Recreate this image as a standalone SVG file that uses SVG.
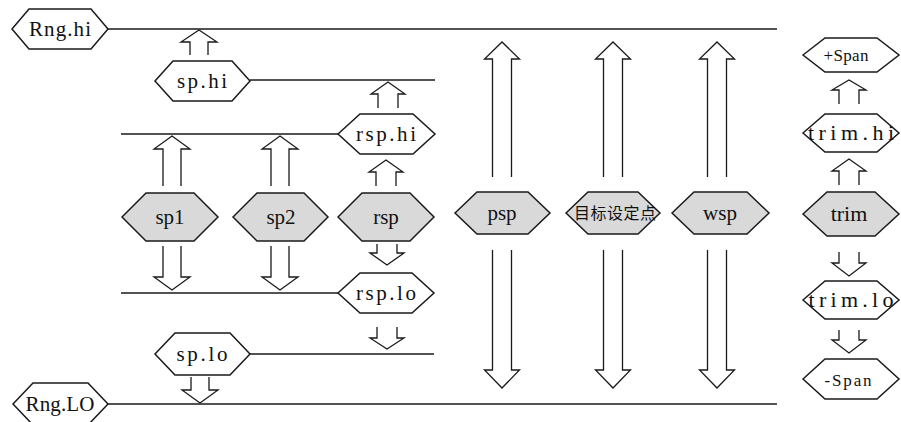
<svg xmlns="http://www.w3.org/2000/svg" width="901" height="422" viewBox="0 0 901 422">
<style>
.hex{fill:#ffffff;stroke:#1a1a1a;stroke-width:1.5}
.hex.g{fill:#d9d9d9}
.ln{stroke:#1a1a1a;stroke-width:1.6;fill:none}
.arr{stroke:#1a1a1a;stroke-width:1.3;fill:none;stroke-linejoin:miter}
text{font-family:"Liberation Serif","DejaVu Serif",serif;font-size:21px;fill:#111;text-anchor:middle}
text.cjk{font-family:"Noto Sans CJK SC",sans-serif;font-size:16px}
text.sm{font-size:17px}
text.lg{font-size:22px}
</style>
<rect width="901" height="422" fill="#ffffff"/>
<g id="connectors">
<line class="ln" x1="108" y1="29" x2="777" y2="29"/>
<line class="ln" x1="250" y1="80" x2="435" y2="80"/>
<line class="ln" x1="121" y1="134" x2="338" y2="134"/>
<line class="ln" x1="121" y1="293" x2="338" y2="293"/>
<line class="ln" x1="250" y1="354" x2="434" y2="354"/>
<line class="ln" x1="108" y1="404" x2="777" y2="404"/>
<polyline class="arr" points="190,55 190,42 181,42 199,30 217,42 208,42 208,55"/>
<polyline class="arr" points="378,108 378,94 371,94 388,82 405,94 398,94 398,108"/>
<polyline class="arr" points="163,186 163,149 154,149 172,136 190,149 181,149 181,186"/>
<polyline class="arr" points="271,186 271,149 262,149 280,136 298,149 289,149 289,186"/>
<polyline class="arr" points="376,186 376,172 369,172 386,160 403,172 396,172 396,186"/>
<polyline class="arr" points="492.5,177 492.5,59 484.5,59 502,42 519.5,59 511.5,59 511.5,177"/>
<polyline class="arr" points="603.5,177 603.5,59 595.5,59 613,42 630.5,59 622.5,59 622.5,177"/>
<polyline class="arr" points="707.5,177 707.5,59 699.5,59 717,42 734.5,59 726.5,59 726.5,177"/>
<polyline class="arr" points="839,104 839,90 832,90 849,80 866,90 859,90 859,104"/>
<polyline class="arr" points="839,185 839,171 832,171 849,159 866,171 859,171 859,185"/>
<polyline class="arr" points="163,246 163,277 154,277 172,290 190,277 181,277 181,246"/>
<polyline class="arr" points="271,246 271,277 262,277 280,290 298,277 289,277 289,246"/>
<polyline class="arr" points="377,244 377,253 370,253 387,265 404,253 397,253 397,244"/>
<polyline class="arr" points="377,327 377,338 370,338 387,349 404,338 397,338 397,327"/>
<polyline class="arr" points="191,377 191,390 182,390 200,403 218,390 209,390 209,377"/>
<polyline class="arr" points="492.5,250 492.5,370 484.5,370 502,388 519.5,370 511.5,370 511.5,250"/>
<polyline class="arr" points="603.5,250 603.5,370 595.5,370 613,388 630.5,370 622.5,370 622.5,250"/>
<polyline class="arr" points="707.5,250 707.5,370 699.5,370 717,388 734.5,370 726.5,370 726.5,250"/>
<polyline class="arr" points="839,252 839,263 832,263 849,276 866,263 859,263 859,252"/>
<polyline class="arr" points="839,330 839,340 832,340 849,353 866,340 859,340 859,330"/>
</g>
<g id="rng-hi"><polygon class="hex" points="12,29 29,9 91,9 108,29 91,49 29,49"/><text x="60" y="36" textLength="62">Rng.hi</text></g>
<g id="sp-hi"><polygon class="hex" points="155,81 173,61 232,61 250,81 232,101 173,101"/><text x="202" y="88" textLength="50">sp.hi</text></g>
<g id="rsp-hi"><polygon class="hex" points="338,134 360,114 413,114 435,134 413,154 360,154"/><text x="386" y="141" textLength="60">rsp.hi</text></g>
<g id="sp1"><polygon class="hex g" points="122,217 146,193 194,193 218,217 194,241 146,241"/><text x="170" y="224">sp1</text></g>
<g id="sp2"><polygon class="hex g" points="233,217 257,193 304,193 328,217 304,241 257,241"/><text x="281" y="224">sp2</text></g>
<g id="rsp"><polygon class="hex g" points="338,217 362,193 410,193 434,217 410,241 362,241"/><text x="386" y="224">rsp</text></g>
<g id="psp"><polygon class="hex g" points="455,213 477,192 528,192 550,213 528,234 477,234"/><text x="502" y="220">psp</text></g>
<g id="target-sp"><polygon class="hex g" points="566,213 588,192 638,192 660,213 638,234 588,234"/><text class="cjk" x="615" y="219" textLength="82">目标设定点</text></g>
<g id="wsp"><polygon class="hex g" points="672,213 694,192 747,192 769,213 747,234 694,234"/><text x="720" y="220">wsp</text></g>
<g id="rsp-lo"><polygon class="hex" points="338,293 360,273 412,273 434,293 412,313 360,313"/><text x="386" y="300" textLength="60">rsp.lo</text></g>
<g id="sp-lo"><polygon class="hex" points="155,354 175,333 230,333 250,354 230,375 175,375"/><text x="202" y="361" textLength="51">sp.lo</text></g>
<g id="rng-lo"><polygon class="hex" points="13,404 33,383 88,383 108,404 88,425 33,425"/><text x="60" y="411" textLength="69">Rng.LO</text></g>
<g id="plus-span"><polygon class="hex" points="803,55 825,38 877,38 899,55 877,72 825,72"/><text class="sm" x="846" y="61" textLength="45">+Span</text></g>
<g id="trim-hi"><polygon class="hex" points="803,133 825,114 877,114 899,133 877,152 825,152"/><text class="lg" x="851" y="140" textLength="86">trim.hi</text></g>
<g id="trim"><polygon class="hex g" points="803,214 827,192 875,192 899,214 875,236 827,236"/><text class="lg" x="849" y="221">trim</text></g>
<g id="trim-lo"><polygon class="hex" points="803,300 825,281 877,281 899,300 877,319 825,319"/><text class="lg" x="851" y="307" textLength="85">trim.lo</text></g>
<g id="minus-span"><polygon class="hex" points="803,379 825,359 877,359 899,379 877,399 825,399"/><text class="sm" x="848" y="386" textLength="47">-Span</text></g>
</svg>
